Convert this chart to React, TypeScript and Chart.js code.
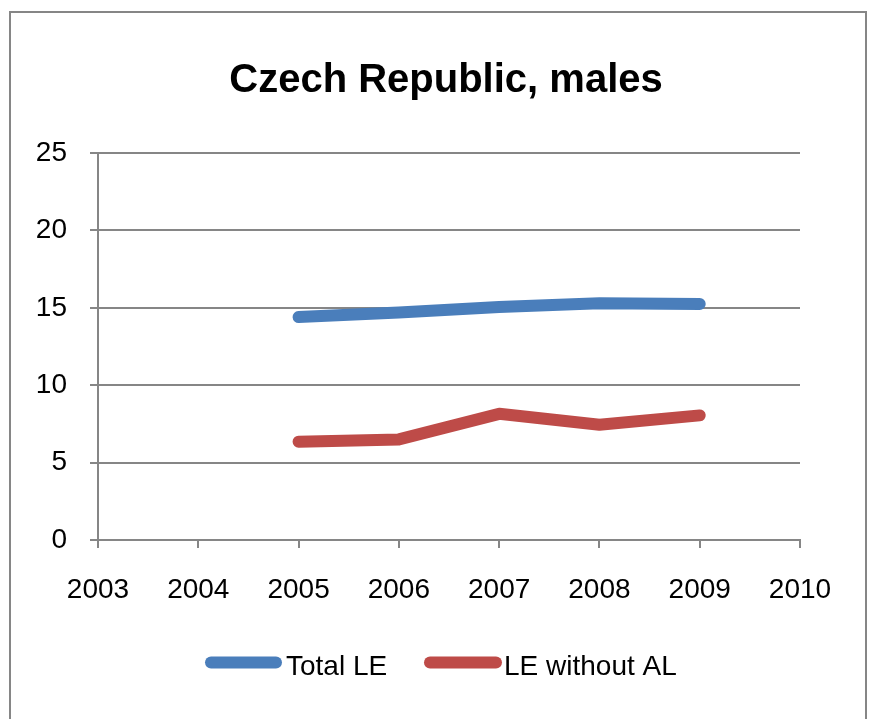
import React, { useEffect, useRef } from "react";
import { Chart, registerables } from "chart.js";

Chart.register(...registerables);

const titleText = "Czech Republic, males";
const years = [2005, 2006, 2007, 2008, 2009];
const totalLE = [14.4, 14.7, 15.05, 15.3, 15.25];
const leWithoutAL = [6.35, 6.5, 8.15, 7.45, 8.05];
const seriesLabels = ["Total LE", "LE without AL"];
const seriesColors = ["#4A7EBB", "#BE4B48"];
const xMin = 2003;
const xMax = 2010;
const yMin = 0;
const yMax = 25;
const yStep = 5;

const FONT = "'Liberation Sans', Arial, sans-serif";
const GRID = "#868686";
const LEGEND_SLOTS = [
  { lineFrom: 211, lineTo: 276, textX: 286 },
  { lineFrom: 430, lineTo: 496, textX: 504 },
];

const decorPlugin = {
  id: "decor",
  beforeDraw(chart: any) {
    const ctx = chart.ctx;
    ctx.save();
    ctx.fillStyle = "#ffffff";
    ctx.fillRect(0, 0, chart.width, chart.height);
    ctx.strokeStyle = GRID;
    ctx.lineWidth = 2;
    ctx.strokeRect(10, 12, 856, 760);
    ctx.restore();
  },
  afterDraw(chart: any) {
    const ctx = chart.ctx;
    ctx.save();
    // title
    ctx.fillStyle = "#000";
    ctx.font = `bold 40px ${FONT}`;
    ctx.textAlign = "center";
    ctx.textBaseline = "alphabetic";
    ctx.fillText(titleText, 446, 92);
    // legend
    ctx.font = `28px ${FONT}`;
    ctx.textAlign = "left";
    const y = 662.5;
    chart.data.datasets.forEach((d: any, i: number) => {
      const slot = LEGEND_SLOTS[i];
      ctx.strokeStyle = d.borderColor;
      ctx.lineWidth = 12;
      ctx.lineCap = "round";
      ctx.beginPath();
      ctx.moveTo(slot.lineFrom, y);
      ctx.lineTo(slot.lineTo, y);
      ctx.stroke();
      ctx.fillStyle = "#000";
      ctx.fillText(d.label, slot.textX, 675);
    });
    ctx.restore();
  },
};

export default function App() {
  const ref = useRef<HTMLCanvasElement | null>(null);
  useEffect(() => {
    if (!ref.current) return;
    const chart = new Chart(ref.current, {
      type: "line",
      data: {
        datasets: [
          {
            label: seriesLabels[0],
            data: years.map((yr, i) => ({ x: yr, y: totalLE[i] })),
            borderColor: seriesColors[0],
            backgroundColor: seriesColors[0],
            borderWidth: 12,
            borderCapStyle: "round",
            borderJoinStyle: "round",
            pointRadius: 0,
            tension: 0,
          },
          {
            label: seriesLabels[1],
            data: years.map((yr, i) => ({ x: yr, y: leWithoutAL[i] })),
            borderColor: seriesColors[1],
            backgroundColor: seriesColors[1],
            borderWidth: 12,
            borderCapStyle: "round",
            borderJoinStyle: "round",
            pointRadius: 0,
            tension: 0,
          },
        ],
      },
      options: {
        animation: false,
        responsive: false,
        events: [],
        layout: { padding: { top: 153, right: 69, bottom: 0, left: 0 } },
        plugins: {
          legend: { display: false },
          title: { display: false },
          tooltip: { enabled: false },
        },
        scales: {
          x: {
            type: "linear",
            min: xMin,
            max: xMax,
            ticks: {
              stepSize: 1,
              autoSkip: false,
              maxRotation: 0,
              color: "#000",
              font: { family: FONT, size: 28 },
              padding: 25,
              callback: (v: any) => String(v),
            },
            grid: {
              drawOnChartArea: false,
              drawTicks: true,
              tickLength: 8,
              color: GRID,
              lineWidth: 2,
            },
            border: { display: true, color: GRID, width: 2 },
            afterFit: (scale: any) => {
              scale.height = 179;
            },
          },
          y: {
            min: yMin,
            max: yMax,
            ticks: {
              stepSize: yStep,
              color: "#000",
              font: { family: FONT, size: 28 },
              padding: 23,
            },
            grid: {
              drawTicks: true,
              tickLength: 8,
              color: GRID,
              lineWidth: 2,
            },
            border: { display: true, color: GRID, width: 2 },
            afterFit: (scale: any) => {
              scale.width = 98;
            },
          },
        },
      },
      plugins: [decorPlugin],
    });
    return () => chart.destroy();
  }, []);
  return (
    <div style={{ position: "fixed", left: 0, top: 0, width: 869, height: 719 }}>
      <canvas ref={ref} width={869} height={719} />
    </div>
  );
}
